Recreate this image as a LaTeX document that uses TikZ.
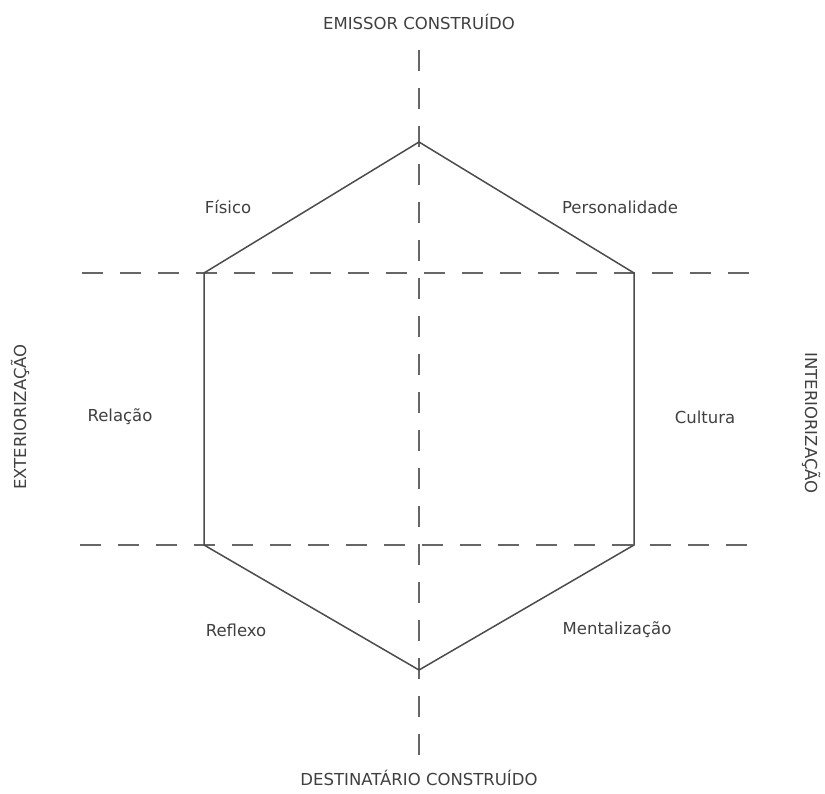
\documentclass[tikz,border=0pt]{standalone}
\usepackage{fontspec}
\setmainfont{DejaVu Sans}
\usetikzlibrary{positioning}

\begin{document}
\begin{tikzpicture}[x = 1pt, y = -1pt, line width = 1.5pt,
	label/.style = {text = black!75, font = \fontsize{16.5}{19}\selectfont, inner sep = 0pt},
	axis/.style = {draw = black!60, dash pattern = on 21pt off 17pt},
	hexa/.style = {draw = black!70}]
	\useasboundingbox[fill = white] (0,0) rectangle (825,794);
	% hexagon corners
	\coordinate (top) at (419,142);
	\coordinate (ul) at (204,273);
	\coordinate (ur) at (634,273);
	\coordinate (ll) at (204,545);
	\coordinate (lr) at (634,545);
	\coordinate (bot) at (419,670);
	% dashed axes
	\coordinate (vtop) at (419,50);
	\coordinate (vbot) at (419,757);
	\coordinate (h1l) at (82,273);
	\coordinate (h1r) at (762,273);
	\coordinate (h2l) at (80,545);
	\coordinate (h2r) at (760,545);
	\draw[axis] (vtop) -- (vbot);
	\draw[axis] (h1l) -- (h1r);
	\draw[axis] (h2l) -- (h2r);
	\draw[hexa] (top) -- (ur) -- (lr) -- (bot) -- (ll) -- (ul) -- cycle;
	% labels
	\node[label](emissor) at (419,22){EMISSOR CONSTRUÍDO};
	\node[label](destinatario) at (419,778){DESTINATÁRIO CONSTRUÍDO};
	\node[label, rotate = 90](exterior) at (20,417){EXTERIORIZAÇÃO};
	\node[label, rotate = -90](interior) at (811,423){INTERIORIZAÇÃO};
	\node[label](fisico) at (228,207){Físico};
	\node[label](personalidade) at (620,207){Personalidade};
	\node[label](relacao) at (120,417){Relação};
	\node[label](cultura) at (705,417){Cultura};
	\node[label](reflexo) at (236,630){Reflexo};
	\node[label](mentalizacao) at (617,630){Mentalização};
\end{tikzpicture}
\end{document}
